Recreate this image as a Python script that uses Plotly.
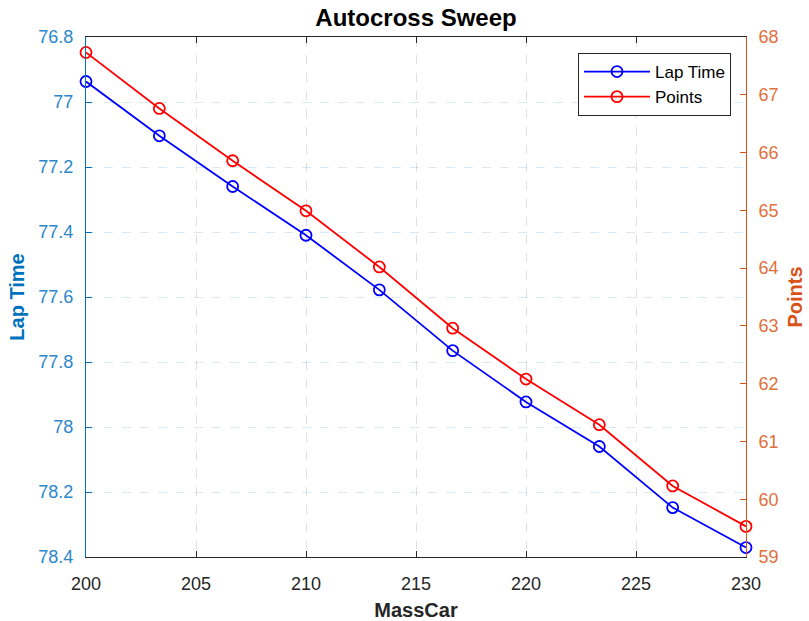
import plotly.graph_objects as go

mass_car = [200, 203.333, 206.667, 210, 213.333, 216.667, 220, 223.333, 226.667, 230]
lap_time = [76.937, 77.104, 77.260, 77.410, 77.578, 77.765, 77.923, 78.060, 78.248, 78.371]
points = [67.733, 66.763, 65.858, 64.992, 64.02, 62.96, 62.08, 61.29, 60.23, 59.53]

x_ticks = [200, 205, 210, 215, 220, 225, 230]
left_ticks = [76.8, 77.0, 77.2, 77.4, 77.6, 77.8, 78.0, 78.2, 78.4]
left_labels = ["76.8", "77", "77.2", "77.4", "77.6", "77.8", "78", "78.2", "78.4"]
right_ticks = [59, 60, 61, 62, 63, 64, 65, 66, 67, 68]

FONT = "Liberation Sans, Arial, Helvetica, sans-serif"
LEFT_C = "#0072BD"
LEFT_TXT = "#2b87c9"
RIGHT_C = "#D95319"
RIGHT_TXT = "#e0703c"
DARK = "#262626"

fig = go.Figure()
fig.add_trace(go.Scatter(
    x=mass_car, y=lap_time, name="Lap Time", mode="lines+markers", cliponaxis=False,
    line=dict(color="#0000FF", width=1.8),
    marker=dict(symbol="circle-open", size=11, color="#0000FF", line=dict(width=1.8)),
    yaxis="y"))
fig.add_trace(go.Scatter(
    x=mass_car, y=points, name="Points", mode="lines+markers", cliponaxis=False,
    line=dict(color="#FF0000", width=1.8),
    marker=dict(symbol="circle-open", size=11, color="#FF0000", line=dict(width=1.8)),
    yaxis="y2"))

fig.update_layout(
    width=809, height=621,
    margin=dict(l=86, r=63, t=37, b=64, pad=0, autoexpand=False),
    paper_bgcolor="white", plot_bgcolor="white",
    font=dict(family=FONT, size=18, color=DARK),
    title=dict(text="Autocross Sweep", x=(86 + 746) / 2 / 809, xanchor="center",
               y=1 - 18 / 621, yanchor="middle", yref="container",
               font=dict(size=24, weight="bold", color="#000000", family=FONT)),
    showlegend=True,
    legend=dict(x=(731 - 86) / 660, xanchor="right", y=(557 - 53) / 520, yanchor="top",
                bgcolor="white", bordercolor=DARK, borderwidth=1,
                font=dict(size=17, color="#000000", family=FONT),
                itemwidth=66,
                tracegroupgap=0),
    xaxis=dict(
        range=[200, 230], tickvals=x_ticks, ticks="inside", ticklen=6, tickcolor=DARK,
        showline=True, linecolor=DARK, linewidth=1, mirror="ticks", automargin=False,
        showgrid=True, gridcolor="rgba(38,38,38,0.15)", griddash="dash", gridwidth=1,
        zeroline=False, tickfont=dict(size=18, color=DARK),
        ticklabelstandoff=10,
        title=dict(text="MassCar", font=dict(size=20, weight="bold", color=DARK), standoff=12),
    ),
    yaxis=dict(
        range=[78.4, 76.8], tickvals=left_ticks, ticktext=left_labels,
        ticks="inside", ticklen=6, tickcolor=LEFT_C, automargin=False,
        showline=True, linecolor=LEFT_C, linewidth=1,
        showgrid=True, gridcolor="rgba(0,114,189,0.15)", griddash="dash", gridwidth=1,
        zeroline=False, tickfont=dict(size=18, color=LEFT_TXT),
        ticklabelstandoff=8,
        title=dict(text="Lap Time", font=dict(size=20, weight="bold", color=LEFT_C), standoff=8),
    ),
    yaxis2=dict(
        range=[59, 68], tickvals=right_ticks, overlaying="y", side="right",
        ticks="inside", ticklen=6, tickcolor=RIGHT_C, automargin=False,
        showline=True, linecolor=RIGHT_C, linewidth=1,
        showgrid=False, zeroline=False, tickfont=dict(size=18, color=RIGHT_TXT),
        ticklabelstandoff=8,
        title=dict(text="Points", font=dict(size=20, weight="bold", color=RIGHT_C), standoff=10),
    ),
)

fig.write_html("out.html")
